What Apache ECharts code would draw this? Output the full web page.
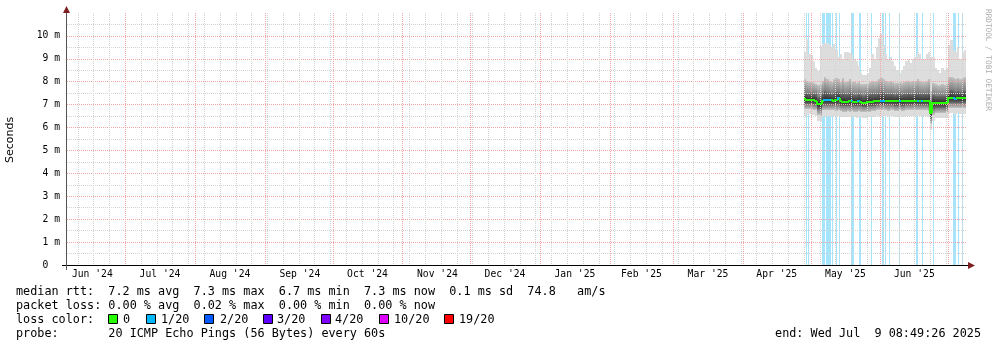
<!DOCTYPE html>
<html><head><meta charset="utf-8">
<script src="https://cdn.jsdelivr.net/npm/echarts@6/dist/echarts.min.js"></script>
<style>html,body{margin:0;padding:0;background:#fff}#c{width:997px;height:347px}</style>
</head><body><div id="c"></div>
<script>
// ---------- data ----------
const rangeStart = '2024-06-05 06:00';
const rangeEnd = '2025-07-09 08:49:26';

const days = ['2025-04-28','2025-04-29','2025-04-30','2025-05-01','2025-05-02','2025-05-03','2025-05-04','2025-05-05','2025-05-06','2025-05-07',
'2025-05-08','2025-05-09','2025-05-10','2025-05-11','2025-05-12','2025-05-13','2025-05-14','2025-05-15','2025-05-16','2025-05-17',
'2025-05-18','2025-05-19','2025-05-20','2025-05-21','2025-05-22','2025-05-23','2025-05-24','2025-05-25','2025-05-26','2025-05-27',
'2025-05-28','2025-05-29','2025-05-30','2025-05-31','2025-06-01','2025-06-02','2025-06-03','2025-06-04','2025-06-05','2025-06-06',
'2025-06-07','2025-06-08','2025-06-09','2025-06-10','2025-06-11','2025-06-12','2025-06-13','2025-06-14','2025-06-15','2025-06-16',
'2025-06-17','2025-06-18','2025-06-19','2025-06-20','2025-06-21','2025-06-22','2025-06-23','2025-06-24','2025-06-25','2025-06-26',
'2025-06-27','2025-06-28','2025-06-29','2025-06-30','2025-07-01','2025-07-02','2025-07-03','2025-07-04','2025-07-05','2025-07-06',
'2025-07-07','2025-07-08'];

// round-trip times in ms (smoke percentiles)
const minV = [6.52,6.55,6.58,6.56,6.55,6.50,6.30,6.25,6.48,6.50, 6.52,6.50,6.52,6.50,6.48,6.50,6.46,6.45,6.44,6.46,
6.45,6.46,6.44,6.43,6.45,6.44,6.42,6.42,6.44,6.45, 6.46,6.48,6.50,6.50,6.52,6.50,6.50,6.48,6.50,6.50,
6.48,6.48,6.50,6.48,6.48,6.50,6.50,6.49,6.50,6.50, 6.52,6.50,6.50,6.49,6.50,6.48,5.90,6.30,6.40,6.40,
6.42,6.40,6.41,6.42,6.60,6.62,6.60,6.60,6.62,6.60, 6.61,6.60];
const p10V = [6.80,6.80,6.82,6.80,6.78,6.76,6.55,6.52,6.75,6.76, 6.78,6.76,6.78,6.76,6.74,6.75,6.72,6.70,6.70,6.72,
6.70,6.72,6.70,6.70,6.71,6.70,6.68,6.68,6.70,6.70, 6.72,6.74,6.75,6.76,6.78,6.76,6.76,6.74,6.75,6.75,
6.74,6.74,6.75,6.74,6.74,6.75,6.76,6.75,6.75,6.76, 6.77,6.76,6.75,6.75,6.76,6.74,6.15,6.55,6.64,6.64,
6.65,6.64,6.65,6.66,6.85,6.86,6.85,6.84,6.86,6.85, 6.85,6.85];
const p25V = [7.02,7.02,7.03,7.02,7.00,6.98,6.82,6.80,6.98,7.00, 7.00,6.99,7.00,6.98,6.97,6.98,6.95,6.94,6.93,6.95,
6.94,6.95,6.93,6.93,6.94,6.92,6.91,6.91,6.92,6.93, 6.95,6.96,6.98,6.98,7.00,6.98,6.98,6.97,6.98,6.97,
6.96,6.96,6.97,6.96,6.96,6.97,6.98,6.97,6.97,6.98, 6.99,6.98,6.97,6.97,6.98,6.96,6.40,6.82,6.86,6.86,
6.87,6.86,6.87,6.88,7.06,7.08,7.06,7.06,7.07,7.06, 7.07,7.06];
const medV = [7.24,7.22,7.22,7.21,7.20,7.18,7.02,7.03,7.18,7.22, 7.21,7.20,7.19,7.18,7.20,7.30,7.14,7.12,7.12,7.13,
7.14,7.15,7.12,7.11,7.14,7.10,7.09,7.09,7.10,7.11, 7.13,7.14,7.16,7.16,7.18,7.17,7.16,7.15,7.16,7.15,
7.14,7.15,7.16,7.15,7.14,7.16,7.17,7.15,7.16,7.17, 7.18,7.16,7.16,7.15,7.16,7.15,6.62,7.05,7.06,7.06,
7.07,7.06,7.06,7.07,7.28,7.30,7.27,7.26,7.28,7.27, 7.28,7.28];
const p75V = [7.52,7.50,7.48,7.47,7.46,7.45,7.32,7.35,7.50,7.60, 7.55,7.52,7.48,7.50,7.55,7.55,7.45,7.50,7.45,7.48,
7.50,7.46,7.44,7.42,7.45,7.40,7.38,7.40,7.42,7.45, 7.48,7.46,7.48,7.50,7.55,7.50,7.48,7.46,7.48,7.46,
7.44,7.45,7.46,7.44,7.45,7.48,7.50,7.46,7.48,7.50, 7.52,7.48,7.47,7.46,7.48,7.50,7.00,7.40,7.38,7.36,
7.36,7.38,7.36,7.40,7.60,7.62,7.58,7.56,7.58,7.55, 7.58,7.60];
const p90V = [8.10,8.05,8.00,7.98,7.95,7.92,7.85,7.90,8.05,8.20, 8.10,8.05,8.00,8.10,8.15,8.10,8.00,8.15,8.00,8.05,
8.10,8.00,7.98,7.95,8.00,7.90,7.88,7.90,7.92,8.00, 8.05,8.00,8.05,8.10,8.15,8.10,8.05,8.00,8.05,8.00,
7.95,7.95,7.98,7.95,7.98,8.02,8.05,8.00,8.02,8.05, 8.10,8.05,8.00,8.00,8.05,8.10,7.60,7.95,7.90,7.85,
7.85,7.88,7.85,7.90,8.20,8.20,8.15,8.10,8.15,8.10, 8.15,8.20];
const maxV = [9.30,9.85,9.20,9.15,8.90,8.60,8.45,9.55,9.65,9.70, 9.70,9.60,9.50,9.65,9.40,9.10,9.20,9.00,9.30,9.30,
9.25,9.20,9.00,8.90,8.70,8.40,8.30,8.30,8.40,8.60, 9.20,9.00,9.50,9.90,10.10,9.60,9.20,9.00,9.10,8.90,
8.70,8.50,8.40,8.50,8.70,8.90,9.00,8.80,9.00,9.10, 9.30,9.20,9.00,9.00,9.20,9.30,9.10,9.10,8.60,8.50,
8.40,8.60,8.50,8.60,9.60,9.80,9.40,9.30,9.50,9.00, 9.30,9.40];
// loss level of the median (0 = none, 1 = 1/20)
const medLoss = [0,0,0,0,0,0,0,0,0,1, 1,1,0,0,0,1,0,0,0,0,
0,1,0,0,1,0,0,0,0,0, 0,0,0,0,1,1,0,0,0,0,
0,0,1,0,0,0,0,0,0,0, 1,0,1,0,0,0,0,0,0,0,
0,0,0,0,0,0,1,1,0,0, 0,0];

// packet loss periods (1/20)
const lossStart = ['2025-04-28 23:00','2025-04-30 00:00','2025-05-06 02:00','2025-05-07 02:00','2025-05-07 20:00','2025-05-10 12:00',
'2025-05-12 07:00','2025-05-13 12:00','2025-05-18 23:00','2025-05-19 23:00','2025-05-22 09:00','2025-05-27 20:00',
'2025-06-01 17:00','2025-06-03 05:00','2025-06-04 17:00','2025-06-09 02:00','2025-06-16 19:00','2025-06-19 08:00',
'2025-06-24 05:00','2025-07-03 02:00','2025-07-05 07:00','2025-07-07 05:00'];
const lossEnd = ['2025-04-29 09:00','2025-04-30 10:00','2025-05-06 19:00','2025-05-07 12:00','2025-05-10 02:00','2025-05-10 22:00',
'2025-05-12 21:00','2025-05-13 22:00','2025-05-19 17:00','2025-05-20 09:00','2025-05-23 09:00','2025-05-28 06:00',
'2025-06-02 17:00','2025-06-03 15:00','2025-06-05 07:00','2025-06-09 17:00','2025-06-17 17:00','2025-06-20 01:00',
'2025-06-24 19:00','2025-07-04 17:00','2025-07-05 21:00','2025-07-07 12:00'];

// tick labels
const xTickLabels = ["Jun '24","Jul '24","Aug '24","Sep '24","Oct '24","Nov '24","Dec '24","Jan '25","Feb '25","Mar '25","Apr '25","May '25","Jun '25"];
const xTickDates = ['2024-06-16 12:00','2024-07-16 12:00','2024-08-16 12:00','2024-09-16 12:00','2024-10-16 12:00','2024-11-16 12:00',
'2024-12-16 12:00','2025-01-16 12:00','2025-02-15 00:00','2025-03-16 12:00','2025-04-16 00:00','2025-05-16 12:00','2025-06-16 00:00'];
const yTickLabels = ['0  ','1 m','2 m','3 m','4 m','5 m','6 m','7 m','8 m','9 m','10 m'];

const legendRow1 = 'median rtt:  7.2 ms avg  7.3 ms max  6.7 ms min  7.3 ms now  0.1 ms sd  74.8   am/s';
const legendRow2 = 'packet loss: 0.00 % avg  0.02 % max  0.00 % min  0.00 % now';
const legendRow4 = 'probe:       20 ICMP Echo Pings (56 Bytes) every 60s';
const lossLegend = ['0','1/20','2/20','3/20','4/20','10/20','19/20'];
const lossColors = ['#26ff00','#00b8ff','#0059ff','#5e00ff','#7e00ff','#dd00ff','#ff0000'];
const endText = 'end: Wed Jul  9 08:49:26 2025';

// ---------- helpers ----------
function T(s){
  const [d,h] = s.split(' ');
  const [Y,M,D] = d.split('-').map(Number);
  let hh=0,mm=0,ss=0;
  if(h){ const p=h.split(':').map(Number); hh=p[0]; mm=p[1]||0; ss=p[2]||0; }
  return Date.UTC(Y,M-1,D,hh,mm,ss);
}
const DAY = 86400000;
const START = T(rangeStart), END = T(rangeEnd);
const xTickTs = xTickDates.map(T);

// grid lines: Mondays (minor) and month starts (major)
const gridData = [];
let mon = T('2024-06-10');
while (mon < END) { gridData.push([mon, 0, 0]); mon += 7*DAY; }
for (let y=2024, m=6; ; ) {
  const t = Date.UTC(y, m, 1);
  if (t > END) break;
  if (t > START) gridData.push([t, 1, 0]);
  m++; if (m > 11) { m = 0; y++; }
}

const smokeData = days.map((d,i)=>[T(d), T(d)+DAY, minV[i], p10V[i], p25V[i], medV[i], p75V[i], p90V[i], maxV[i]]);
const medData = days.map((d,i)=>[T(d), T(d)+DAY, medV[i], medLoss[i]]);
const lossData = lossStart.map((s,i)=>[T(s), T(lossEnd[i]), 0]);

const RED = '#f4a6a6', GRAY = '#d3d3d3';
const MONO = 'DejaVu Sans Mono';
const LFS = 11.8;

function grad(a,b){ return new echarts.graphic.LinearGradient(0,0,0,1,[{offset:0,color:a},{offset:1,color:b}]); }

const chart = echarts.init(document.getElementById('c'), null, {renderer:'canvas'});

const legendGraphics = [];
legendGraphics.push({type:'text', x:16, y:291.5, style:{text:legendRow1, fontFamily:MONO, fontSize:LFS, fill:'#000', verticalAlign:'middle'}});
legendGraphics.push({type:'text', x:16, y:305.5, style:{text:legendRow2, fontFamily:MONO, fontSize:LFS, fill:'#000', verticalAlign:'middle'}});
legendGraphics.push({type:'text', x:16, y:319.5, style:{text:'loss color:', fontFamily:MONO, fontSize:LFS, fill:'#000', verticalAlign:'middle'}});
legendGraphics.push({type:'text', x:16, y:333.5, style:{text:legendRow4, fontFamily:MONO, fontSize:LFS, fill:'#000', verticalAlign:'middle'}});
legendGraphics.push({type:'text', x:981, y:333.5, style:{text:endText, fontFamily:MONO, fontSize:LFS, fill:'#000', verticalAlign:'middle', align:'right'}});
const boxX = [108,146,204,263,321,379,444];
const lblX = [123,161,220,277,335,394,459];
lossLegend.forEach((l,i)=>{
  legendGraphics.push({type:'rect', shape:{x:boxX[i]+0.5, y:314.5, width:9, height:9}, style:{fill:lossColors[i], stroke:'#000', lineWidth:1}});
  legendGraphics.push({type:'text', x:lblX[i], y:319.5, style:{text:l, fontFamily:MONO, fontSize:LFS, fill:'#000', verticalAlign:'middle'}});
});

const option = {
  animation:false,
  backgroundColor:'#ffffff',
  grid:{left:67, right:30, top:13, bottom:82, containLabel:false},
  xAxis:{type:'value', min:START, max:END,
    axisLine:{show:false}, axisTick:{show:false}, splitLine:{show:false},
    axisLabel:{customValues:xTickTs, margin:4, color:'#000', fontFamily:MONO, fontSize:9.7,
      formatter:v=>{ const i = xTickTs.findIndex(t=>Math.abs(t-v)<60000); return i>=0 ? xTickLabels[i] : ''; }}},
  yAxis:{type:'value', min:0, max:11, interval:1, z:3,
    axisLine:{show:false}, axisTick:{show:false},
    axisLabel:{margin:7, color:'#000', fontFamily:MONO, fontSize:9.7, showMaxLabel:false, padding:[3,0,0,0],
      formatter:v=> (yTickLabels[Math.round(v)] !== undefined ? yTickLabels[Math.round(v)] : '')},
    splitLine:{show:true, showMinLine:false, showMaxLine:false, lineStyle:{color:RED, width:1, type:[1,1]}},
    minorTick:{show:false, splitNumber:2},
    minorSplitLine:{show:true, lineStyle:{color:GRAY, width:1, type:[1,1]}}},
  series:[
    { type:'custom', name:'loss', z:1, silent:true, data:lossData, encode:{x:[0,1], y:2},
      renderItem:(params, api)=>{
        const cs = params.coordSys;
        const x0 = Math.round(api.coord([api.value(0),0])[0]);
        let x1 = Math.round(api.coord([api.value(1),0])[0]);
        if (x1 <= x0) x1 = x0 + 1;
        return {type:'rect', shape:{x:x0, y:cs.y, width:x1-x0, height:cs.height}, style:{fill:'#a6e4fb'}};
      }},
    { type:'custom', name:'smoke', z:2, silent:true, data:smokeData, encode:{x:[0,1], y:[2,3,4,5,6,7,8]},
      renderItem:(params, api)=>{
        const x0 = Math.round(api.coord([api.value(0),0])[0]);
        const x1 = Math.round(api.coord([api.value(1),0])[0]);
        const Y = k => Math.round(api.coord([0, api.value(k)])[1]);
        const yMin=Y(2), y10=Y(3), y25=Y(4), yMed=Y(5), y75=Y(6), y90=Y(7), yMax=Y(8);
        const segs = [
          [yMax, y90, '#dddddd'],
          [y90, y75, grad('#c2c2c2','#7c7c7c')],
          [y75, yMed, grad('#6c6c6c','#2c2c2c')],
          [yMed, y25, grad('#2c2c2c','#6c6c6c')],
          [y25, y10, grad('#7c7c7c','#c2c2c2')],
          [y10, yMin, '#dddddd']
        ];
        const children = [];
        segs.forEach(s=>{ if (s[1] > s[0]) children.push({type:'rect', shape:{x:x0, y:s[0], width:x1-x0, height:s[1]-s[0]}, style:{fill:s[2]}}); });
        return {type:'group', children};
      }},
    { type:'custom', name:'vgrid', z:3, silent:true, data:gridData, encode:{x:0, y:2},
      renderItem:(params, api)=>{
        const cs = params.coordSys;
        const x = Math.round(api.coord([api.value(0),0])[0]) + 0.5;
        return {type:'line', shape:{x1:x, y1:cs.y, x2:x, y2:cs.y+cs.height},
          style:{stroke: api.value(1)===1 ? RED : GRAY, lineWidth:1, lineDash:[1,1]}};
      }},
    { type:'custom', name:'median', z:4, silent:true, data:medData, encode:{x:[0,1], y:2},
      renderItem:(params, api)=>{
        const i = params.dataIndex;
        const x0 = Math.round(api.coord([api.value(0),0])[0]);
        const x1 = Math.round(api.coord([api.value(1),0])[0]);
        const y = Math.round(api.coord([0, api.value(2)])[1]);
        const pts = [];
        if (i>0) pts.push([x0, Math.round(api.coord([0, medV[i-1]])[1])]);
        pts.push([x0, y]); pts.push([x1, y]);
        return {type:'polyline', shape:{points:pts}, style:{stroke: lossColors[api.value(3)], lineWidth:2, fill:null}};
      }}
  ],
  graphic:[
    {type:'line', shape:{x1:62, y1:265.5, x2:969, y2:265.5}, style:{stroke:'#000', lineWidth:1}, z:10},
    {type:'line', shape:{x1:66.5, y1:270, x2:66.5, y2:12}, style:{stroke:'#555', lineWidth:1}, z:10},
    {type:'polygon', shape:{points:[[968,262],[975,265.5],[968,269]]}, style:{fill:'#7f1f1f'}, z:10},
    {type:'polygon', shape:{points:[[63,13],[66.5,6],[70,13]]}, style:{fill:'#7f1f1f'}, z:10},
    {type:'text', x:10, y:140, rotation:Math.PI/2, style:{text:'Seconds', fontFamily:'DejaVu Sans', fontSize:11, fill:'#000', align:'center', verticalAlign:'middle'}},
    {type:'text', x:987.5, y:60, rotation:-Math.PI/2, style:{text:'RRDTOOL / TOBI OETIKER', fontFamily:MONO, fontSize:7.7, fill:'#aaaaaa', align:'center', verticalAlign:'middle'}}
  ].concat(legendGraphics)
};
chart.setOption(option);
</script>
</body></html>
